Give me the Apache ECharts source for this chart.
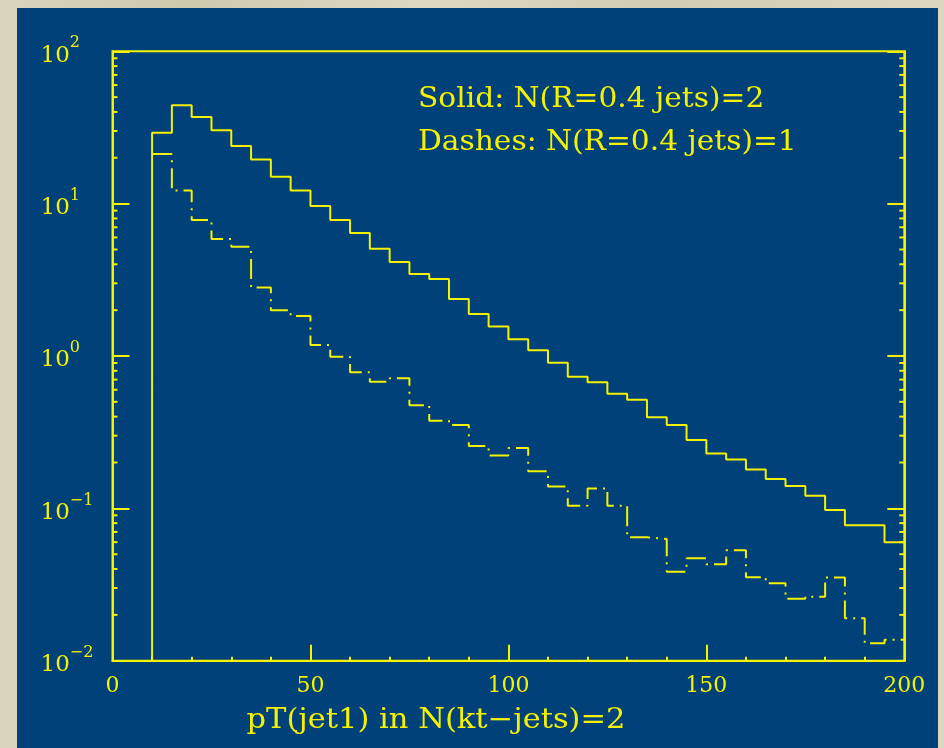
<!DOCTYPE html>
<html>
<head>
<meta charset="utf-8">
<script src="https://cdn.jsdelivr.net/npm/echarts@6/dist/echarts.min.js"></script>
<style>
  html, body { margin: 0; padding: 0; }
  body {
    width: 944px; height: 748px; overflow: hidden;
    background: linear-gradient(90deg, #d9d4bc 0%, #cfc9ae 20%, #ddd8c2 45%, #d2ccb2 70%, #dcd7c0 100%);
  }
  #chart { width: 944px; height: 748px; }
</style>
</head>
<body>
<div id="chart"></div>
<script>
// 直方图的分箱（左边界），宽度 5
var binEdges = [10, 15, 20, 25, 30, 35, 40, 45, 50, 55, 60, 65, 70, 75, 80, 85, 90, 95,
  100, 105, 110, 115, 120, 125, 130, 135, 140, 145, 150, 155, 160, 165, 170, 175, 180, 185, 190, 195];
var xEnd = 200;

// 实线: N(R=0.4 jets)=2
var solidValues = [29.2, 44.2, 37.0, 30.3, 23.9, 19.5, 15.0, 12.2, 9.65, 7.81, 6.42, 5.06, 4.14,
  3.45, 3.20, 2.37, 1.89, 1.56, 1.29, 1.09, 0.904, 0.731, 0.672, 0.566, 0.517, 0.396, 0.352,
  0.281, 0.229, 0.209, 0.180, 0.156, 0.140, 0.121, 0.0975, 0.0774, 0.0774, 0.0598];

// 虚线: N(R=0.4 jets)=1
var dashValues = [21.2, 12.2, 7.81, 5.86, 5.22, 2.82, 2.00, 1.83, 1.18, 0.989, 0.782, 0.678, 0.714,
  0.475, 0.376, 0.352, 0.257, 0.222, 0.249, 0.175, 0.139, 0.104, 0.135, 0.104, 0.0645, 0.0629,
  0.0384, 0.0470, 0.0429, 0.0531, 0.0353, 0.0322, 0.0255, 0.0263, 0.0352, 0.0190, 0.0130, 0.0137];

// log 轴的小刻度 2..9 x 10^k
var minorTickValues = [];
[0.01, 0.1, 1, 10].forEach(function (d) {
  for (var m = 2; m <= 9; m++) minorTickValues.push([m * d]);
});

var yellow = '#f4f200';
var fontFamily = '"DejaVu Serif", "Liberation Serif", serif';

// 把分箱数据变成阶梯线的点
function stepData(vals, fromBottom) {
  var pts = [];
  if (fromBottom) pts.push([binEdges[0], 0.01]);
  for (var i = 0; i < vals.length; i++) pts.push([binEdges[i], vals[i]]);
  pts.push([xEnd, vals[vals.length - 1]]);
  return pts;
}

var myChart = echarts.init(document.getElementById('chart'));
var option = {
  animation: false,
  graphic: [
    {
      type: 'rect', z: -10, silent: true,
      shape: { x: 17, y: 8, width: 921, height: 745 },
      style: { fill: '#00417a' }
    },
    {
      type: 'text', x: 418, y: 100, scaleX: 1.06,
      style: { text: 'Solid: N(R=0.4 jets)=2', fill: yellow, font: '28px ' + fontFamily, align: 'left', verticalAlign: 'middle' }
    },
    {
      type: 'text', x: 418, y: 143, scaleX: 1.06,
      style: { text: 'Dashes: N(R=0.4 jets)=1', fill: yellow, font: '28px ' + fontFamily, align: 'left', verticalAlign: 'middle' }
    },
    {
      // x 轴标题
      type: 'text', x: 436, y: 721, scaleX: 1.09,
      style: { text: 'pT(jet1) in N(kt\u2212jets)=2', fill: yellow, font: '28px ' + fontFamily, align: 'center', verticalAlign: 'middle' }
    }
  ],
  grid: {
    left: 112.5, top: 51.3, right: 39.7, bottom: 87.3,
    show: true, borderColor: yellow, borderWidth: 2, backgroundColor: 'transparent'
  },
  xAxis: {
    type: 'value', min: 0, max: 200, interval: 50,
    axisLine: { lineStyle: { color: yellow, width: 2 } },
    axisTick: { inside: true, length: 16, lineStyle: { color: yellow, width: 2 } },
    minorTick: { show: true, splitNumber: 5, length: 4, lineStyle: { color: yellow, width: 2 } },
    axisLabel: { color: yellow, fontSize: 22, fontFamily: fontFamily, margin: 15 },
    splitLine: { show: false }
  },
  yAxis: [{
    type: 'log', logBase: 10, min: 0.01, max: 100,
    axisLine: { lineStyle: { color: yellow, width: 2 } },
    axisTick: { inside: true, length: 17, lineStyle: { color: yellow, width: 2 } },
    axisLabel: {
      align: 'left', margin: 72,
      formatter: function (v) {
        var e = Math.round(Math.log10(v));
        return '{b|10}{s|' + (e < 0 ? '\u2212' + (-e) : e) + '}';
      },
      rich: {
        b: { color: yellow, fontSize: 23, fontFamily: fontFamily, lineHeight: 32, verticalAlign: 'bottom' },
        s: { color: yellow, fontSize: 16, fontFamily: fontFamily, lineHeight: 32, verticalAlign: 'top' }
      }
    },
    splitLine: { show: false }
  }, {
    type: 'log', logBase: 10, min: 0.01, max: 100, position: 'right',
    axisLine: { show: true, lineStyle: { color: yellow, width: 2 } },
    axisTick: { inside: true, length: 17, lineStyle: { color: yellow, width: 2 } },
    axisLabel: { show: false },
    splitLine: { show: false }
  }],
  series: [
    {
      name: 'Solid', type: 'line', step: 'end',
      data: stepData(solidValues, true),
      symbol: 'none',
      lineStyle: { color: yellow, width: 2 }
    },
    {
      name: 'Dashes', type: 'line', step: 'end',
      data: stepData(dashValues, false),
      symbol: 'none',
      lineStyle: { color: yellow, width: 2, type: [20, 6, 2, 6] }
    },
    {
      // 左右两侧的小刻度
      type: 'custom', silent: true,
      data: minorTickValues,
      renderItem: function (params, api) {
        var v = api.value(0);
        var l = api.coord([0, v]);
        var r = api.coord([200, v]);
        var st = { stroke: yellow, lineWidth: 2 };
        return {
          type: 'group',
          children: [
            { type: 'line', shape: { x1: l[0], y1: l[1], x2: l[0] + 5, y2: l[1] }, style: st },
            { type: 'line', shape: { x1: r[0], y1: r[1], x2: r[0] - 5, y2: r[1] }, style: st }
          ]
        };
      }
    }
  ]
};
myChart.setOption(option);
</script>
</body>
</html>
